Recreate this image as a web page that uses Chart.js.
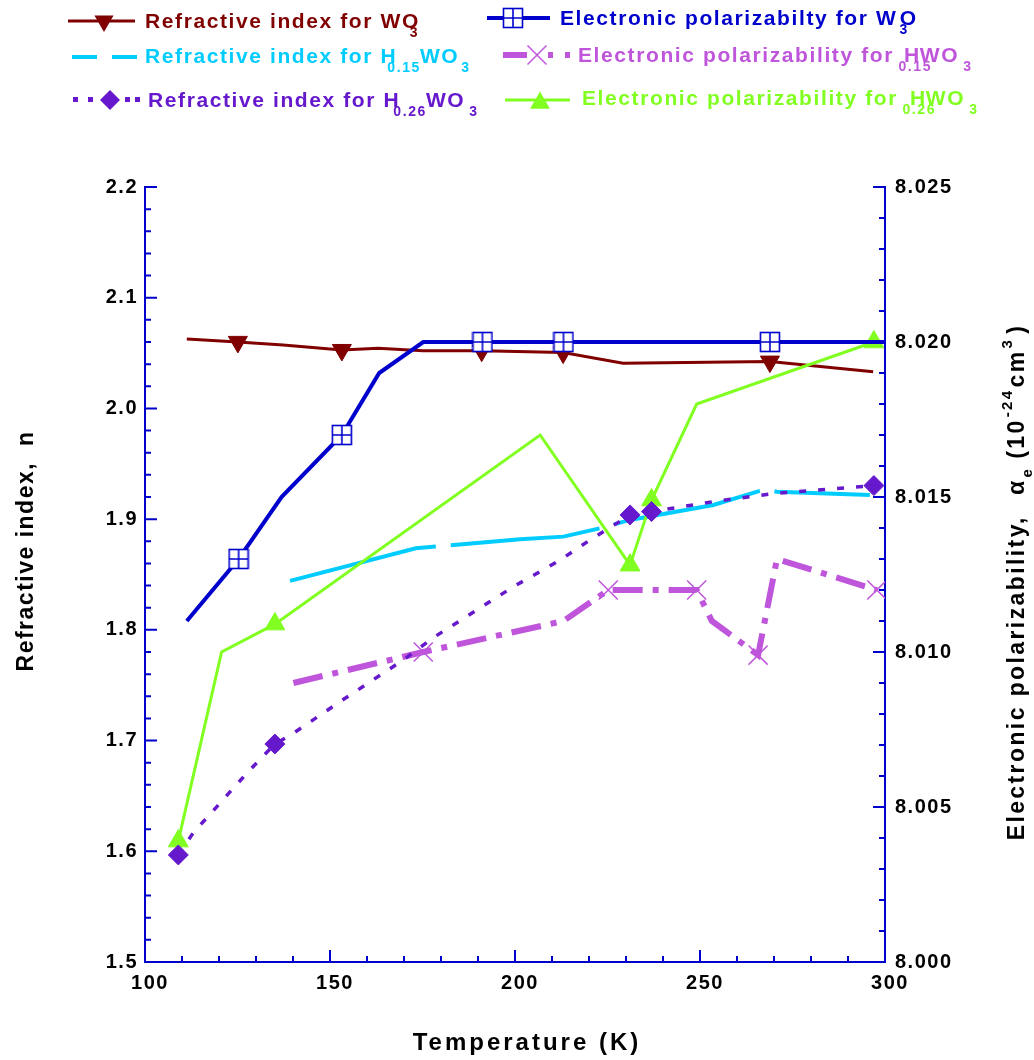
<!DOCTYPE html>
<html>
<head>
    <title>Refractive index and electronic polarizability vs temperature</title>
    <script src="https://cdn.jsdelivr.net/npm/chart.js"></script>
    <style>
        body { margin: 0; background: #fff; }
        #wrap { width: 1034px; height: 1060px; }
    </style>
</head>
<body>
<div id="wrap"><canvas id="chart" width="1034" height="1060"></canvas></div>
<script>
    // values, temperature in K
    const wo3N_T = [111.3, 125.1, 137.3, 153.2, 163.0, 175.1, 191.0, 213.0, 229.2, 268.9, 296.8];
    const wo3N = [2.0628, 2.0601, 2.0574, 2.0528, 2.0544, 2.0522, 2.0522, 2.0505, 2.0408, 2.0423, 2.0332];
    const wo3N_marks = [1, 3, 6, 7, 9];

    const wo3A_T = [111.3, 125.3, 136.9, 153.2, 163.3, 175.2, 191.2, 213.1, 268.9, 300];
    const wo3A = [8.0110, 8.0130, 8.0150, 8.0170, 8.0190, 8.0200, 8.0200, 8.0200, 8.0200, 8.0200];
    const wo3A_marks = [1, 3, 6, 7, 8];

    const h15N_T = [139.2, 173.2, 201.4, 213.1, 223.0, 231.1, 253.6, 267.6, 270.7, 295.9];
    const h15N = [1.8442, 1.8737, 1.8818, 1.8842, 1.8918, 1.8993, 1.9128, 1.9270, 1.9248, 1.9219];

    const h15A_T = [140.1, 175.2, 213.1, 225.2, 249.1, 253.2, 265.7, 270.8, 297.8];
    const h15A = [8.0090, 8.0100, 8.0110, 8.0120, 8.0120, 8.0110, 8.0099, 8.0130, 8.0120];
    const h15A_marks = [1, 3, 4, 6, 8];

    const h26N_T = [109.0, 113.0, 120.3, 127.5, 135.1, 140.1, 152.7, 169.8, 177.8, 199.5, 212.2, 220.3, 231.1, 236.9, 253.6, 270.7, 297.0];
    const h26N = [1.5967, 1.6165, 1.6436, 1.6705, 1.6969, 1.7066, 1.7351, 1.7728, 1.7927, 1.8388, 1.8631, 1.8812, 1.9038, 1.9068, 1.9158, 1.9234, 1.9303];
    const h26N_marks = [0, 4, 12, 13, 16];

    const h26A_T = [109.0, 120.7, 135.1, 206.8, 231.1, 236.9, 249.1, 297.0];
    const h26A = [8.0039, 8.0100, 8.0109, 8.0170, 8.0128, 8.0149, 8.0180, 8.0200];
    const h26A_marks = [0, 2, 4, 5, 7];

    const BLUE = '#0000cc';
    const RED = '#800000';
    const CYAN = '#00ccff';
    const ORCHID = '#bf55db';
    const PURPLE = '#6619cc';
    const LIME = '#80ff20';
    const FONT = '"Liberation Sans", Arial, sans-serif';

    // square with a cross, used for the WO3 polarizability markers
    const sqPlus = (function () {
        const c = document.createElement('canvas');
        c.width = 22; c.height = 22;
        const g = c.getContext('2d');
        g.fillStyle = '#fff';
        g.fillRect(1, 1, 20, 20);
        g.strokeStyle = BLUE;
        g.lineWidth = 1.6;
        g.strokeRect(1.5, 1.5, 19, 19);
        g.beginPath();
        g.moveTo(11, 1.5); g.lineTo(11, 20.5);
        g.moveTo(1.5, 11); g.lineTo(20.5, 11);
        g.stroke();
        return c;
    })();

    function series(label, T, V, axis, color, width, extra, marks, radius) {
        const ds = {
            label: label,
            data: T.map((t, i) => ({ x: t, y: V[i] })),
            yAxisID: axis,
            borderColor: color,
            backgroundColor: color,
            borderWidth: width,
            pointRadius: (c) => (marks && marks.includes(c.dataIndex)) ? radius : 0,
            pointBorderWidth: 1,
            tension: 0
        };
        return Object.assign(ds, extra);
    }

    const datasets = [
        series('Electronic polarizabilty for W3O', wo3A_T, wo3A, 'y2', BLUE, 4,
            { pointStyle: sqPlus, order: 0 }, wo3A_marks, 10),
        series('Refractive index for H0.26WO3', h26N_T, h26N, 'y', PURPLE, 3.5,
            { borderDash: [7, 12], pointStyle: 'rectRot', order: 1 }, h26N_marks, 10),
        series('Electronic polarizability for H0.26WO3', h26A_T, h26A, 'y2', LIME, 3,
            { pointStyle: 'triangle', order: 2 }, h26A_marks, 11.5),
        series('Electronic polarizability for H0.15WO3', h15A_T, h15A, 'y2', ORCHID, 6,
            { borderDash: [30, 10, 6, 10], pointStyle: 'crossRot', pointBorderWidth: 1.5, order: 3 }, h15A_marks, 13.5),
        series('Refractive index for H0.15WO3', h15N_T, h15N, 'y', CYAN, 4,
            { borderDash: [150, 15], order: 4 }, null, 0),
        series('Refractive index for WO3', wo3N_T, wo3N, 'y', RED, 3,
            { pointStyle: 'triangle', pointRotation: 180, order: 5 }, wo3N_marks, 11)
    ];

    // draws text pieces with sub/superscripts starting at pen position
    function drawParts(ctx, parts, x, y, size, subSize, spacing, dry) {
        let pen = x;
        parts.forEach((p) => {
            pen += p.dx || 0;
            const s = p.s ? subSize : size;
            ctx.font = 'bold ' + s + 'px ' + FONT;
            ctx.letterSpacing = spacing + 'px';
            let yy = y;
            if (p.s === 'sub') yy = y + size * 0.42;
            if (p.s === 'sup') yy = y - size * 0.45;
            if (!dry) ctx.fillText(p.t, pen, yy);
            pen += ctx.measureText(p.t).width;
        });
        return pen - x;
    }

    function marker(ctx, kind, x, y, color) {
        ctx.save();
        ctx.fillStyle = color;
        ctx.strokeStyle = color;
        ctx.beginPath();
        if (kind === 'triDown') {
            const r = 11;
            ctx.moveTo(x, y + r);
            ctx.lineTo(x - r * 0.866, y - r / 2);
            ctx.lineTo(x + r * 0.866, y - r / 2);
            ctx.closePath(); ctx.fill();
        } else if (kind === 'tri') {
            const r = 11.5;
            ctx.moveTo(x, y - r);
            ctx.lineTo(x - r * 0.866, y + r / 2);
            ctx.lineTo(x + r * 0.866, y + r / 2);
            ctx.closePath(); ctx.fill();
        } else if (kind === 'diamond') {
            const r = 10;
            ctx.moveTo(x - r, y); ctx.lineTo(x, y - r); ctx.lineTo(x + r, y); ctx.lineTo(x, y + r);
            ctx.closePath(); ctx.fill();
        } else if (kind === 'x') {
            const r = 9.5;
            ctx.lineWidth = 1.5;
            ctx.moveTo(x - r, y - r); ctx.lineTo(x + r, y + r);
            ctx.moveTo(x + r, y - r); ctx.lineTo(x - r, y + r);
            ctx.stroke();
        } else if (kind === 'sq') {
            ctx.drawImage(sqPlus, x - 11, y - 11);
        }
        ctx.restore();
    }

    function seg(ctx, color, w, x1, x2, y) {
        ctx.save();
        ctx.strokeStyle = color; ctx.lineWidth = w;
        ctx.beginPath(); ctx.moveTo(x1, y); ctx.lineTo(x2, y); ctx.stroke();
        ctx.restore();
    }

    const legendPlugin = {
        id: 'richLegend',
        afterDraw(chart) {
            const ctx = chart.ctx;
            ctx.save();
            ctx.textBaseline = 'alphabetic';
            ctx.textAlign = 'left';

            // left column
            seg(ctx, RED, 3, 68, 135, 21);
            marker(ctx, 'triDown', 104, 21, RED);
            ctx.fillStyle = RED;
            drawParts(ctx, [{ t: 'Refractive index for WO' }, { t: '3', s: 'sub', dx: -10 }], 145, 28, 21, 14, 1.6);

            seg(ctx, CYAN, 4, 72, 97, 57);
            seg(ctx, CYAN, 4, 112, 137, 57);
            ctx.fillStyle = CYAN;
            drawParts(ctx, [{ t: 'Refractive index for H' }, { t: '0.15', s: 'sub', dx: -10 },
                { t: 'WO', dx: -1 }, { t: '3', s: 'sub', dx: 2 }], 145, 63, 21, 14, 1.6);

            ctx.fillStyle = PURPLE;
            [73, 88, 125, 135].forEach((dx) => ctx.fillRect(dx, 97, 5, 5));
            marker(ctx, 'diamond', 110, 100, PURPLE);
            drawParts(ctx, [{ t: 'Refractive index for H' }, { t: '0.26', s: 'sub', dx: -7 },
                { t: 'WO', dx: -1 }, { t: '3', s: 'sub', dx: 4 }], 148, 107, 21, 14, 1.6);

            // right column
            seg(ctx, BLUE, 4, 487, 550, 18);
            marker(ctx, 'sq', 513, 18, BLUE);
            ctx.fillStyle = BLUE;
            drawParts(ctx, [{ t: 'Electronic polarizabilty for W' }, { t: '3', s: 'sub', dx: 2 },
                { t: 'O', dx: -9 }], 560, 25, 21, 14, 1.6);

            seg(ctx, ORCHID, 6, 503, 527, 55);
            marker(ctx, 'x', 537, 55, ORCHID);
            ctx.fillStyle = ORCHID;
            ctx.fillRect(548, 52, 5, 6);
            ctx.fillRect(565, 52, 5, 6);
            drawParts(ctx, [{ t: 'Electronic polarizability for ' }, { t: '0.15', s: 'sub', dx: -3 },
                { t: 'H', dx: -28 }, { t: 'WO', dx: -1 }, { t: '3', s: 'sub', dx: 4 }], 578, 62, 21, 14, 1.6);

            seg(ctx, LIME, 3, 505, 570, 100);
            marker(ctx, 'tri', 540, 103, LIME);
            ctx.fillStyle = LIME;
            drawParts(ctx, [{ t: 'Electronic polarizability for ' }, { t: '0.26', s: 'sub', dx: -3 },
                { t: 'H', dx: -26 }, { t: 'WO', dx: -1 }, { t: '3', s: 'sub', dx: 4 }], 582, 105, 21, 14, 1.6);

            // axis titles
            ctx.fillStyle = '#000';
            ctx.font = 'bold 24px ' + FONT;
            ctx.letterSpacing = '3px';
            ctx.textAlign = 'center';
            ctx.textBaseline = 'middle';
            ctx.fillText('Temperature (K)', 527, 1043);

            ctx.save();
            ctx.translate(27, 551);
            ctx.rotate(-Math.PI / 2);
            ctx.font = 'bold 23px ' + FONT;
            ctx.letterSpacing = '1.5px';
            ctx.fillText('Refractive index,  n', 0, 0);
            ctx.restore();

            ctx.save();
            ctx.translate(1018, 582);
            ctx.rotate(-Math.PI / 2);
            ctx.textAlign = 'left';
            ctx.textBaseline = 'middle';
            const rightTitle = [{ t: 'Electronic polarizability,' }, { t: '\u03b1', dx: 20 }, { t: 'e', s: 'sub', dx: 1 },
                { t: '(10', dx: 8 }, { t: '-24', s: 'sup', dx: 1 }, { t: 'cm', dx: 1 }, { t: '3', s: 'sup', dx: 1 }, { t: ')', dx: 4 }];
            const w = drawParts(ctx, rightTitle, 0, 0, 23, 15, 2.4, true);
            drawParts(ctx, rightTitle, -w / 2, 0, 23, 15, 2.4);
            ctx.restore();

            ctx.restore();
        }
    };

    // inward tick marks, major and minor, on the three axes
    const tickPlugin = {
        id: 'inwardTicks',
        beforeDatasetsDraw(chart) {
            const { ctx, chartArea: a, scales } = chart;
            ctx.save();
            ctx.strokeStyle = BLUE;
            ctx.lineWidth = 2;
            ctx.beginPath();
            for (let t = 100; t <= 300; t += 10) {
                const px = scales.x.getPixelForValue(t);
                const len = t % 50 === 0 ? 12 : 6;
                ctx.moveTo(px, a.bottom); ctx.lineTo(px, a.bottom - len);
            }
            for (let i = 0; i <= 35; i++) {
                const py = scales.y.getPixelForValue(1.5 + i * 0.02);
                const len = i % 5 === 0 ? 12 : 6;
                ctx.moveTo(a.left, py); ctx.lineTo(a.left + len, py);
            }
            for (let i = 0; i <= 25; i++) {
                const py = scales.y2.getPixelForValue(8 + i * 0.001);
                const len = i % 5 === 0 ? 12 : 6;
                ctx.moveTo(a.right, py); ctx.lineTo(a.right - len, py);
            }
            ctx.stroke();
            ctx.restore();
        }
    };

    const spacingPlugin = {
        id: 'spacing',
        beforeDraw(chart) { chart.ctx.letterSpacing = '1.5px'; }
    };

    const tickFont = { family: FONT, size: 20, weight: 'bold' };

    new Chart(document.getElementById('chart'), {
        type: 'line',
        data: { datasets: datasets },
        options: {
            responsive: false,
            animation: false,
            layout: { padding: { top: 187, left: 0, right: 0, bottom: 0 } },
            plugins: { legend: { display: false }, tooltip: { enabled: false } },
            scales: {
                x: {
                    type: 'linear', min: 100, max: 300,
                    grid: { display: false, drawTicks: false },
                    border: { display: true, color: BLUE, width: 2 },
                    ticks: { stepSize: 50, color: '#000', font: tickFont, padding: 9, labelOffset: 5, maxRotation: 0 },
                    afterFit: (s) => { s.height = 98; }
                },
                y: {
                    position: 'left', min: 1.5, max: 2.2,
                    grid: { display: false, drawTicks: false },
                    border: { display: true, color: BLUE, width: 2 },
                    ticks: { stepSize: 0.1, color: '#000', font: tickFont, padding: 7,
                        callback: (v) => Number(v).toFixed(1) },
                    afterFit: (s) => { s.width = 145; }
                },
                y2: {
                    position: 'right', min: 8, max: 8.025,
                    grid: { display: false, drawTicks: false },
                    border: { display: true, color: BLUE, width: 2 },
                    ticks: { stepSize: 0.005, color: '#000', font: tickFont, padding: 10,
                        callback: (v) => Number(v).toFixed(3) },
                    afterFit: (s) => { s.width = 149; }
                }
            }
        },
        plugins: [spacingPlugin, tickPlugin, legendPlugin]
    });
</script>
</body>
</html>
